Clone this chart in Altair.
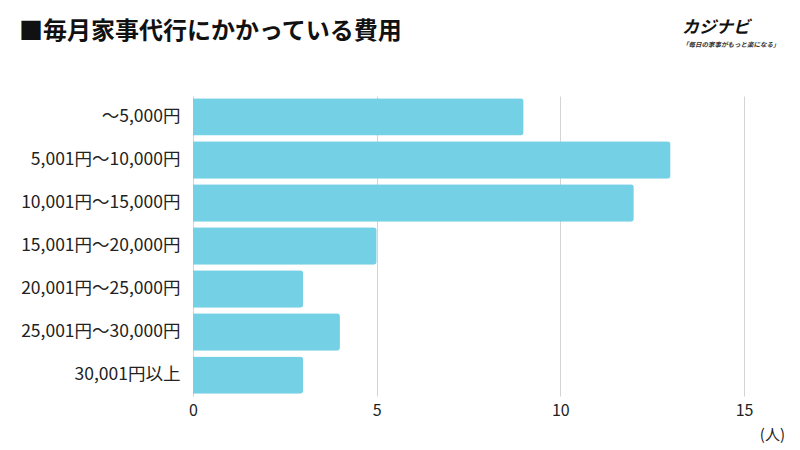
import altair as alt
import pandas as pd

categories = ["～5,000円", "5,001円～10,000円", "10,001円～15,000円", "15,001円～20,000円",
              "20,001円～25,000円", "25,001円～30,000円", "30,001円以上"]
counts = [9, 13, 12, 5, 3, 4, 3]

df = pd.DataFrame({"cat": categories, "n": counts})
FONT = "Noto Sans CJK JP"

W, H = 551, 300

bars = alt.Chart(df).mark_bar(color="#74d0e5", cornerRadiusEnd=3).encode(
    y=alt.Y("cat:N", sort=categories, title=None,
            scale=alt.Scale(paddingInner=0.13, paddingOuter=0.05),
            axis=alt.Axis(labelFont=FONT, labelFontSize=17.5, labelColor="#222",
                          labelPadding=13, ticks=False, domain=False, grid=False)),
    x=alt.X("n:Q", title=None, scale=alt.Scale(domain=[0, 15], nice=False),
            axis=alt.Axis(values=[0, 5, 10, 15], labelFont=FONT, labelFontSize=16,
                          labelColor="#222", labelPadding=6, labelFlush=False,
                          ticks=False, domain=False,
                          grid=True, gridColor="#d4d4d4", gridWidth=1)),
)

def txt(s, x, y, size, weight="normal", align="left", italic=False, color="#222"):
    return alt.Chart(pd.DataFrame({"t": [s]})).mark_text(
        font=FONT, fontSize=size, fontWeight=weight, align=align, baseline="middle",
        color=color, fontStyle="italic" if italic else "normal"
    ).encode(text="t:N", x=alt.value(x), y=alt.value(y))

title = txt("■毎月家事代行にかかっている費用", -174, -64, 24, "bold", color="#111")
logo = txt("カジナビ", 489, -68, 17, "bold", italic=True, color="#111")
logo_sub = txt("「毎日の家事がもっと楽になる」", 489, -51, 6.5, "bold", italic=True, color="#333")
unit = txt("(人)", 592, 339, 15, align="right")

chart = alt.layer(bars, title, logo, logo_sub, unit).properties(
    width=W, height=H,
    autosize=alt.AutoSizeParams(type="none"),
    padding={"left": 193, "top": 96, "right": 56, "bottom": 54},
).configure(background="white", view=alt.ViewConfig(stroke=None))

chart.save("out.html", embed_options={"renderer": "svg", "actions": False})
